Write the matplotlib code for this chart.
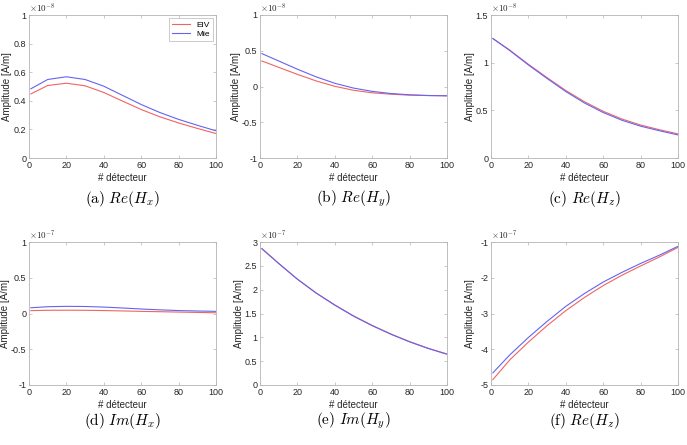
import matplotlib
matplotlib.use("Agg")
import matplotlib.pyplot as plt
from matplotlib.ticker import FuncFormatter

plt.rcParams['font.family'] = ['Liberation Sans', 'DejaVu Sans']
plt.rcParams['mathtext.fontset'] = 'cm'

detecteur = [1, 10, 20, 30, 40, 50, 60, 70, 80, 90, 100]

# values in units of 10^exp
re_hx_eiv = [0.448, 0.507, 0.523, 0.505, 0.458, 0.398, 0.339, 0.288, 0.245, 0.207, 0.171]
re_hx_mie = [0.484, 0.549, 0.568, 0.549, 0.502, 0.438, 0.374, 0.318, 0.270, 0.229, 0.190]
re_hy_eiv = [0.357, 0.268, 0.170, 0.078, 0.003, -0.053, -0.088, -0.108, -0.121, -0.127, -0.130]
re_hy_mie = [0.460, 0.357, 0.242, 0.135, 0.045, -0.022, -0.068, -0.098, -0.116, -0.126, -0.130]
re_hz_eiv = [1.253, 1.132, 0.983, 0.843, 0.708, 0.590, 0.490, 0.409, 0.346, 0.297, 0.253]
re_hz_mie = [1.253, 1.128, 0.976, 0.834, 0.697, 0.577, 0.477, 0.396, 0.334, 0.286, 0.242]
im_hx_eiv = [0.040, 0.045, 0.046, 0.045, 0.041, 0.036, 0.030, 0.025, 0.020, 0.015, 0.010]
im_hx_mie = [0.080, 0.095, 0.100, 0.098, 0.090, 0.077, 0.063, 0.051, 0.041, 0.035, 0.030]
im_hy_eiv = [2.86, 2.55, 2.22, 1.93, 1.68, 1.45, 1.25, 1.07, 0.91, 0.77, 0.65]
im_hy_mie = [2.86, 2.55, 2.22, 1.93, 1.675, 1.445, 1.245, 1.065, 0.905, 0.765, 0.645]
re_hz2_eiv = [-4.85, -4.30, -3.80, -3.34, -2.92, -2.55, -2.22, -1.93, -1.67, -1.42, -1.15]
re_hz2_mie = [-4.66, -4.16, -3.67, -3.22, -2.80, -2.44, -2.12, -1.85, -1.60, -1.37, -1.12]

panels = [
    (re_hx_eiv, re_hx_mie, -8, (0, 1), [0, 0.2, 0.4, 0.6, 0.8, 1], r'$\mathrm{(a)}\ Re(H_x)$', 8),
    (re_hy_eiv, re_hy_mie, -8, (-1, 1), [-1, -0.5, 0, 0.5, 1], r'$\mathrm{(b)}\ Re(H_y)$', 237),
    (re_hz_eiv, re_hz_mie, -8, (0, 1.5), [0, 0.5, 1, 1.5], r'$\mathrm{(c)}\ Re(H_z)$', 471),
    (im_hx_eiv, im_hx_mie, -7, (-1, 1), [-1, -0.5, 0, 0.5, 1], r'$\mathrm{(d)}\ Im(H_x)$', 6),
    (im_hy_eiv, im_hy_mie, -7, (0, 3), [0, 0.5, 1, 1.5, 2, 2.5, 3], r'$\mathrm{(e)}\ Im(H_y)$', 240),
    (re_hz2_eiv, re_hz2_mie, -7, (-5, -1), [-5, -4, -3, -2, -1], r'$\mathrm{(f)}\ Re(H_z)$', 471),
]

fig = plt.figure(figsize=(6.87, 4.45), dpi=100)
W, H = 687, 445
lefts = [29, 260, 491]
tops = [15, 242]
caps_y = [199, 421]
aw, ah = 187, 143

red = '#f06464'
blue = '#6464f0'
grey = '#b4b4b4'
txt = '#262626'

for i, (eiv, mie, ex, ylim, yt, cap, yl_x) in enumerate(panels):
    r, c = divmod(i, 3)
    ax = fig.add_axes([lefts[c] / W, 1 - (tops[r] + ah) / H, aw / W, ah / H])
    ax.plot(detecteur, eiv, color=red, lw=0.8, label='EIV')
    ax.plot(detecteur, mie, color=blue, lw=0.8, label='Mie')
    ax.set_xlim(0, 100)
    ax.set_ylim(*ylim)
    ax.set_xticks([0, 20, 40, 60, 80, 100])
    ax.set_yticks(yt)
    ax.yaxis.set_major_formatter(FuncFormatter(lambda v, p: '%g' % v))
    ax.tick_params(direction='in', top=True, right=True, length=2.5, width=0.5,
                   labelsize=6.5, colors=grey, labelcolor=txt, pad=2)
    for s in ax.spines.values():
        s.set_color(grey)
        s.set_linewidth(0.6)
    ax.set_xlabel('# détecteur', fontsize=7, color=txt, labelpad=2)
    ax.set_ylabel('Amplitude [A/m]', fontsize=7, color=txt)
    # yl_x = label centre in figure pixels; coords give its right edge
    ax.yaxis.set_label_coords((yl_x + 4 - lefts[c]) / aw, 0.5)
    ax.text(0.0, 1.0, r'$\times10^{%d}$' % ex, transform=ax.transAxes,
            fontsize=6.5, color=txt, ha='left', va='bottom',
            family='DejaVu Sans')
    fig.text((lefts[c] + aw / 2) / W, 1 - caps_y[r] / H, cap, fontsize=11,
             ha='center', va='center', color='black')
    if i == 0:
        leg = ax.legend(loc='upper right', fontsize=6, frameon=True, fancybox=False,
                        handlelength=2.2, borderpad=0.3, labelspacing=0.2,
                        borderaxespad=0.4)
        leg.get_frame().set_edgecolor(grey)
        leg.get_frame().set_linewidth(0.6)

fig.savefig('out.png', dpi=100)
